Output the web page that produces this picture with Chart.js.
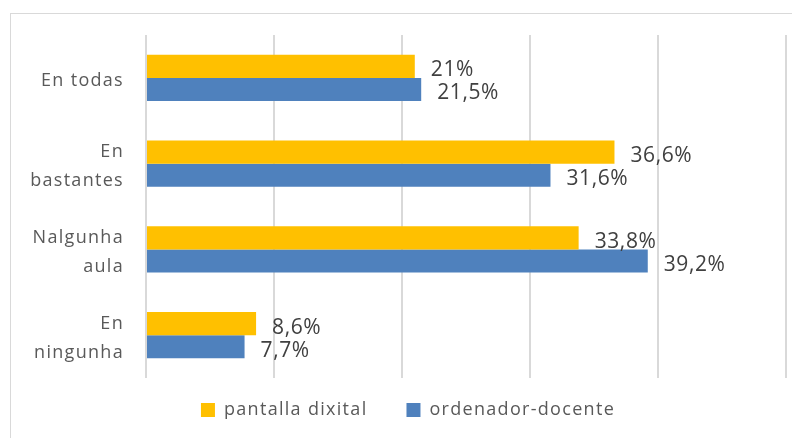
<!DOCTYPE html>
<html>
<head>
<meta charset="utf-8">
<script src="https://cdn.jsdelivr.net/npm/chart.js@4.4.1/dist/chart.umd.min.js"></script>
<style>
  html, body { margin: 0; padding: 0; background: #fff; overflow: hidden; }
  #frame { position: absolute; left: 10px; top: 13px; width: 800px; height: 440px;
           border-left: 1px solid #d9d9d9; border-top: 1px solid #d9d9d9; }
  #wrap { position: absolute; left: 0; top: 0; width: 792px; height: 438px; }
</style>
</head>
<body>
<div id="frame"></div>
<div id="wrap"><canvas id="chart"></canvas></div>
<script>
// data
const categories = ['En todas', ['En', 'bastantes'], ['Nalgunha', 'aula'], ['En', 'ningunha']];
const seriesNames = ['pantalla dixital', 'ordenador-docente'];
const pantallaValues = [21, 36.6, 33.8, 8.6];
const ordenadorValues = [21.5, 31.6, 39.2, 7.7];
const xMin = 0;
const xMax = 50;
const xStep = 10;

const FONT = '"Open Sans", sans-serif';

function formatPct(v) {
  return String(v).replace('.', ',') + '%';
}

// wider letter spacing, like the original
const spacing = {
  id: 'spacing',
  beforeLayout(chart) { chart.ctx.letterSpacing = '1.3px'; },
  beforeDraw(chart) { chart.ctx.letterSpacing = '1.3px'; },
  afterLayout(chart) {
    // put the legend row where the original has it
    const lg = chart.legend;
    const dy = 403 - (lg.top + 39 + 2);
    lg.top += dy;
    lg.bottom += dy;
    lg.left += 15;
    lg.right += 15;
  }
};

// value labels at the end of each bar
const barLabels = {
  id: 'barLabels',
  afterDatasetsDraw(chart) {
    const ctx = chart.ctx;
    ctx.save();
    ctx.font = '21px ' + FONT;
    ctx.letterSpacing = '0.6px';
    ctx.fillStyle = '#404040';
    ctx.textAlign = 'left';
    ctx.textBaseline = 'middle';
    chart.data.datasets.forEach((ds, i) => {
      chart.getDatasetMeta(i).data.forEach((bar, j) => {
        ctx.fillText(formatPct(ds.data[j]), bar.x + 16, bar.y + 4);
      });
    });
    ctx.restore();
  }
};

const ctx = document.getElementById('chart').getContext('2d');
new Chart(ctx, {
  type: 'bar',
  data: {
    labels: categories,
    datasets: [
      {
        label: seriesNames[0],
        data: pantallaValues,
        backgroundColor: '#FFC000',
        borderWidth: 0,
        categoryPercentage: 0.54,
        barPercentage: 1
      },
      {
        label: seriesNames[1],
        data: ordenadorValues,
        backgroundColor: '#4F81BD',
        borderWidth: 0,
        categoryPercentage: 0.54,
        barPercentage: 1
      }
    ]
  },
  options: {
    indexAxis: 'y',
    responsive: true,
    maintainAspectRatio: false,
    animation: false,
    layout: { padding: { top: 35, right: 6, left: 0, bottom: 0 } },
    scales: {
      x: {
        min: xMin,
        max: xMax,
        ticks: { display: false, stepSize: xStep },
        grid: { color: '#d9d9d9', lineWidth: 2, drawTicks: false },
        border: { display: false },
        afterFit(scale) { scale.height = 0; scale.paddingLeft = 0; scale.paddingRight = 0; }
      },
      y: {
        grid: { display: false, drawTicks: false },
        border: { display: false },
        ticks: {
          color: '#595959',
          padding: 22,
          labelOffset: 3,
          font: { family: FONT, size: 18, lineHeight: 1.6 }
        },
        afterFit(scale) {
          scale.width = 146;
          scale.paddingTop = 0;
          scale.paddingBottom = 0;
        }
      }
    },
    plugins: {
      tooltip: { enabled: false },
      legend: {
        position: 'bottom',
        labels: {
          color: '#595959',
          boxWidth: 14,
          boxHeight: 14,
          padding: 39,
          font: { family: FONT, size: 18 }
        },
        // room under the plot: chart area ends at y = 378
        maxHeight: 60
      }
    }
  },
  plugins: [spacing, barLabels]
});
</script>
</body>
</html>
